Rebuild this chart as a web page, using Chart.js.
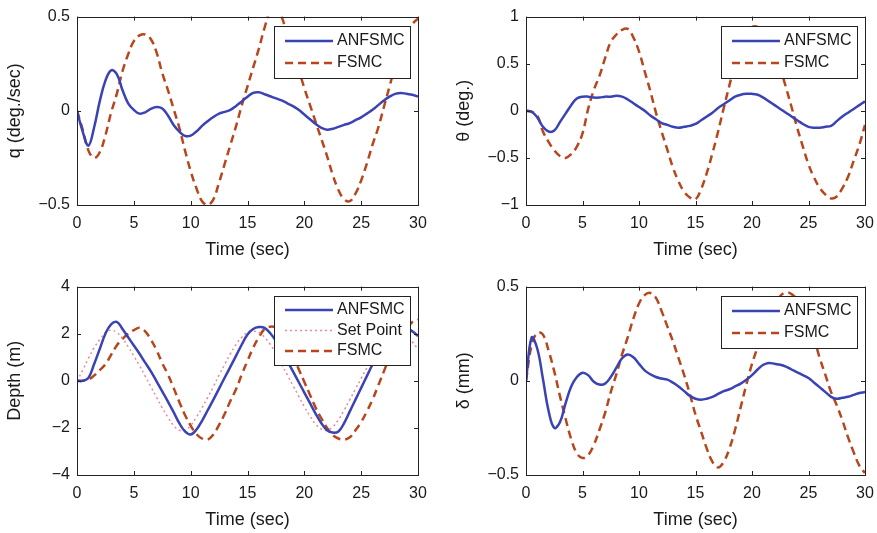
<!DOCTYPE html>
<html>
<head>
<meta charset="utf-8">
<script src="https://cdn.jsdelivr.net/npm/chart.js@4.4.0/dist/chart.umd.min.js"></script>
<style>
html, body { margin:0; padding:0; background:#fff; overflow:hidden; }
body { width:877px; height:533px; position:relative; }
canvas { position:absolute; }
</style>
</head>
<body>
<canvas id="cq" width="438" height="266" style="left:0px;top:0px"></canvas>
<canvas id="ctheta" width="438" height="266" style="left:449px;top:0px"></canvas>
<canvas id="cdepth" width="438" height="266" style="left:0px;top:270px"></canvas>
<canvas id="cdelta" width="438" height="266" style="left:449px;top:270px"></canvas>
<script>
// time axis (sec)
var time = [0,0.5,1,1.5,2,2.5,3,3.5,4,4.5,5,5.5,6,6.5,7,7.5,8,8.5,9,9.5,
  10,10.5,11,11.5,12,12.5,13,13.5,14,14.5,15,15.5,16,16.5,17,17.5,18,18.5,19,19.5,
  20,20.5,21,21.5,22,22.5,23,23.5,24,24.5,25,25.5,26,26.5,27,27.5,28,28.5,29,29.5,30];

// q (deg./sec)
var qAnfsmc = [0,-0.11,-0.185,-0.09,0.05,0.16,0.215,0.195,0.11,0.04,
  0.005,-0.015,-0.008,0.01,0.02,0.012,-0.025,-0.075,-0.11,-0.133,
  -0.132,-0.11,-0.08,-0.055,-0.033,-0.015,-0.006,0.005,0.026,0.05,
  0.075,0.095,0.098,0.088,0.077,0.066,0.055,0.04,0.025,0.005,
  -0.02,-0.045,-0.07,-0.09,-0.10,-0.095,-0.085,-0.075,-0.065,-0.05,
  -0.035,-0.015,0.005,0.03,0.055,0.075,0.09,0.095,0.09,0.085,0.075];
var qFsmc = [0,-0.10,-0.21,-0.25,-0.22,-0.13,-0.01,0.09,0.21,0.30,
  0.37,0.40,0.405,0.38,0.31,0.20,0.11,0.01,-0.09,-0.21,
  -0.32,-0.41,-0.48,-0.50,-0.47,-0.38,-0.28,-0.18,-0.08,0.03,
  0.13,0.23,0.33,0.44,0.53,0.55,0.50,0.40,0.31,0.22,
  0.12,0.03,-0.06,-0.15,-0.24,-0.34,-0.42,-0.47,-0.48,-0.44,
  -0.37,-0.28,-0.18,-0.09,0.02,0.13,0.24,0.33,0.41,0.46,0.49];

// theta (deg.)
var thAnfsmc = [0,-0.01,-0.07,-0.17,-0.22,-0.21,-0.12,-0.03,0.06,0.13,
  0.15,0.15,0.14,0.14,0.15,0.15,0.16,0.15,0.12,0.08,
  0.04,0.00,-0.05,-0.09,-0.13,-0.15,-0.17,-0.18,-0.17,-0.16,
  -0.14,-0.10,-0.06,-0.02,0.03,0.07,0.11,0.15,0.17,0.18,
  0.18,0.17,0.14,0.10,0.06,0.02,-0.02,-0.06,-0.10,-0.14,
  -0.17,-0.18,-0.18,-0.17,-0.16,-0.11,-0.06,-0.02,0.02,0.06,0.10];
var thFsmc = [0,-0.01,-0.05,-0.22,-0.33,-0.42,-0.48,-0.50,-0.46,-0.38,
  -0.24,0.02,0.22,0.37,0.56,0.73,0.81,0.86,0.87,0.78,
  0.63,0.42,0.21,-0.02,-0.22,-0.41,-0.60,-0.75,-0.86,-0.92,
  -0.94,-0.83,-0.66,-0.45,-0.22,0.03,0.27,0.50,0.68,0.82,
  0.89,0.89,0.84,0.73,0.60,0.45,0.25,0.04,-0.18,-0.38,
  -0.57,-0.71,-0.82,-0.89,-0.93,-0.91,-0.82,-0.70,-0.53,-0.36,-0.15];

// depth (m)
var dAnfsmc = [0,0,0.12,0.7,1.35,2.0,2.4,2.5,2.2,1.85,
  1.5,1.15,0.77,0.4,-0.02,-0.45,-0.88,-1.33,-1.8,-2.15,
  -2.28,-2.08,-1.7,-1.25,-0.8,-0.33,0.14,0.6,1.07,1.54,
  1.97,2.2,2.28,2.25,2.02,1.7,1.3,0.85,0.4,-0.05,
  -0.5,-0.95,-1.4,-1.8,-2.1,-2.2,-2.15,-1.8,-1.3,-0.8,
  -0.3,0.2,0.7,1.2,1.6,1.95,2.2,2.3,2.25,2.1,1.9];
var dSetPoint = [0,0.45,0.95,1.4,1.75,2.05,2.15,2.05,1.8,1.45,
  1.05,0.65,0.2,-0.25,-0.7,-1.15,-1.55,-1.9,-2.1,-2.1,
  -1.9,-1.55,-1.15,-0.7,-0.25,0.25,0.7,1.15,1.55,1.85,
  2.05,2.1,2.05,1.85,1.55,1.15,0.7,0.25,-0.2,-0.65,
  -1.1,-1.5,-1.85,-2.05,-2.1,-1.95,-1.65,-1.25,-0.8,-0.35,
  0.1,0.55,1.0,1.4,1.75,2.0,2.1,2.05,1.9,1.65,1.35];
var dFsmc = [0,0,0.05,0.22,0.45,0.7,1.1,1.5,1.78,2.0,
  2.15,2.25,2.1,1.75,1.3,0.75,0.27,-0.3,-0.9,-1.45,
  -1.9,-2.26,-2.45,-2.5,-2.28,-1.87,-1.4,-0.85,-0.35,0.27,
  0.85,1.4,1.85,2.2,2.3,2.25,1.95,1.55,1.05,0.5,
  -0.05,-0.6,-1.15,-1.6,-2.0,-2.3,-2.45,-2.5,-2.4,-2.1,
  -1.75,-1.3,-0.8,-0.2,0.4,1.0,1.5,1.9,2.2,2.5,2.6];

// delta (mm)
var deAnfsmc = [0,0.23,0.17,0.01,-0.16,-0.25,-0.22,-0.12,-0.03,0.02,
  0.043,0.03,-0.005,-0.02,-0.015,0.02,0.07,0.12,0.14,0.125,
  0.09,0.055,0.035,0.02,0.012,0.006,-0.01,-0.03,-0.055,-0.08,
  -0.095,-0.10,-0.095,-0.085,-0.07,-0.055,-0.045,-0.03,-0.015,0.005,
  0.03,0.06,0.085,0.095,0.09,0.085,0.075,0.06,0.045,0.03,
  0.015,-0.01,-0.035,-0.06,-0.085,-0.095,-0.09,-0.085,-0.075,-0.065,-0.06];
var deFsmc = [0,0.19,0.255,0.245,0.16,0.05,-0.08,-0.2,-0.31,-0.385,
  -0.41,-0.395,-0.34,-0.26,-0.17,-0.06,0.035,0.14,0.23,0.33,
  0.41,0.455,0.466,0.44,0.37,0.29,0.21,0.12,0.03,-0.07,
  -0.18,-0.27,-0.36,-0.43,-0.46,-0.43,-0.36,-0.26,-0.14,-0.02,
  0.09,0.18,0.27,0.35,0.41,0.45,0.47,0.46,0.43,0.38,
  0.3,0.22,0.12,0.03,-0.06,-0.13,-0.21,-0.3,-0.38,-0.45,-0.49];

var xTicks = [0,5,10,15,20,25,30];

var BLUE = '#3a43b4';
var RED = '#b8461c';
var PINK = '#e48c9c';
var FONT = "'Liberation Sans', Arial, sans-serif";
var INK = '#1a1a1a';

function pts(ys) {
  return ys.map(function (v, i) { return {x: time[i], y: v}; });
}

// matlab style box with inward ticks
var framePlugin = {
  id: 'frame',
  afterDatasetsDraw: function (chart) {
    var a = chart.chartArea, ctx = chart.ctx;
    var xs = chart.scales.x, ys = chart.scales.y;
    ctx.save();
    ctx.strokeStyle = '#222';
    ctx.lineWidth = 1;
    ctx.strokeRect(Math.round(a.left) + 0.5, Math.round(a.top) + 0.5,
      Math.round(a.right - a.left), Math.round(a.bottom - a.top));
    ctx.beginPath();
    xs.ticks.forEach(function (t) {
      var px = Math.round(xs.getPixelForValue(t.value)) + 0.5;
      ctx.moveTo(px, a.bottom); ctx.lineTo(px, a.bottom - 4);
      ctx.moveTo(px, a.top); ctx.lineTo(px, a.top + 4);
    });
    ys.ticks.forEach(function (t) {
      var py = Math.round(ys.getPixelForValue(t.value)) + 0.5;
      ctx.moveTo(a.left, py); ctx.lineTo(a.left + 4, py);
      ctx.moveTo(a.right, py); ctx.lineTo(a.right - 4, py);
    });
    ctx.stroke();
    ctx.restore();
  }
};

// legend box drawn inside the plot, on top of the lines
var boxLegend = {
  id: 'boxLegend',
  afterDatasetsDraw: function (chart) {
    var a = chart.chartArea, ctx = chart.ctx;
    var sets = chart.data.datasets;
    var rowH = sets.length > 2 ? 20.5 : 22;
    var w = 136, h = sets.length > 2 ? 69 : 52;
    var x0 = Math.round(a.right - 8 - w), y0 = Math.round(a.top + 9);
    ctx.save();
    ctx.fillStyle = '#fff';
    ctx.fillRect(x0, y0, w, h);
    ctx.strokeStyle = '#222';
    ctx.lineWidth = 1;
    ctx.strokeRect(x0 + 0.5, y0 + 0.5, w, h);
    ctx.font = '16px ' + FONT;
    ctx.textBaseline = 'middle';
    sets.forEach(function (ds, i) {
      var cy = y0 + (sets.length > 2 ? 14 : 15) + i * rowH;
      ctx.strokeStyle = ds.borderColor;
      ctx.lineWidth = ds.borderWidth;
      ctx.setLineDash(ds.borderDash || []);
      ctx.beginPath();
      ctx.moveTo(x0 + 11, cy); ctx.lineTo(x0 + 59, cy);
      ctx.stroke();
      ctx.setLineDash([]);
      ctx.fillStyle = INK;
      ctx.fillText(ds.label, x0 + 63, cy);
    });
    ctx.restore();
  }
};

function makeChart(id, yTitle, yMin, yMax, yStep, sets, padRight) {
  var datasets = sets.map(function (s) {
    return {
      label: s.label,
      data: pts(s.data),
      borderColor: s.color,
      borderWidth: s.width,
      borderDash: s.dash,
      pointRadius: 0,
      tension: 0.4,
      fill: false
    };
  });
  return new Chart(document.getElementById(id), {
    type: 'line',
    data: { datasets: datasets },
    options: {
      responsive: false,
      animation: false,
      devicePixelRatio: 1,
      layout: { padding: { top: 16, right: padRight, left: 0, bottom: 0 } },
      plugins: { legend: { display: false }, tooltip: { enabled: false } },
      scales: {
        x: {
          type: 'linear', min: 0, max: 30,
          afterFit: function (s) { s.height = 61; },
          afterBuildTicks: function (s) { s.ticks = xTicks.map(function (v) { return {value: v}; }); },
          grid: { display: false, drawTicks: false },
          border: { display: false },
          ticks: { color: INK, font: { size: 16, family: FONT }, padding: 9, maxRotation: 0 },
          title: { display: true, text: 'Time (sec)', color: INK,
            font: { size: 18, family: FONT }, padding: { top: 0, bottom: 5 } }
        },
        y: {
          min: yMin, max: yMax,
          afterFit: function (s) { s.width = 77; },
          grid: { display: false, drawTicks: false },
          border: { display: false },
          ticks: { color: INK, stepSize: yStep, font: { size: 16, family: FONT }, padding: 7,
            callback: function (v) { return String(v).replace('-', '\u2212'); } },
          title: { display: true, text: yTitle, color: INK,
            font: { size: 18, family: FONT }, padding: { top: 4, bottom: 0 } }
        }
      }
    },
    plugins: [framePlugin, boxLegend]
  });
}

makeChart('cq', 'q (deg./sec)', -0.5, 0.5, 0.5, [
  { label: 'ANFSMC', data: qAnfsmc, color: BLUE, width: 2.5 },
  { label: 'FSMC', data: qFsmc, color: RED, width: 2.5, dash: [8, 5] }
], 20);

makeChart('ctheta', '\u03b8 (deg.)', -1, 1, 0.5, [
  { label: 'ANFSMC', data: thAnfsmc, color: BLUE, width: 2.5 },
  { label: 'FSMC', data: thFsmc, color: RED, width: 2.5, dash: [8, 5] }
], 22);

makeChart('cdepth', 'Depth (m)', -4, 4, 2, [
  { label: 'ANFSMC', data: dAnfsmc, color: BLUE, width: 2.5 },
  { label: 'Set Point', data: dSetPoint, color: PINK, width: 1.5, dash: [2, 3] },
  { label: 'FSMC', data: dFsmc, color: RED, width: 2.5, dash: [8, 5] }
], 20);

makeChart('cdelta', '\u03b4 (mm)', -0.5, 0.5, 0.5, [
  { label: 'ANFSMC', data: deAnfsmc, color: BLUE, width: 2.5 },
  { label: 'FSMC', data: deFsmc, color: RED, width: 2.5, dash: [8, 5] }
], 22);
</script>
</body>
</html>
